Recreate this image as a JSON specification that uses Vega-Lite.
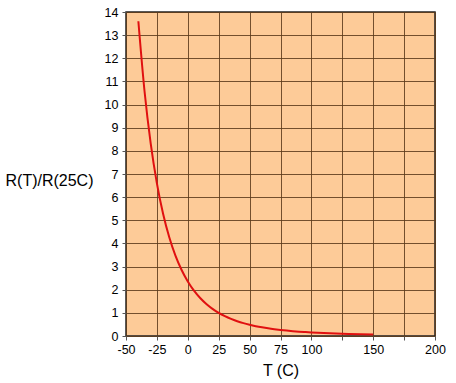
{
  "$schema": "https://vega.github.io/schema/vega-lite/v6.json",
  "width": 309,
  "height": 324,
  "autosize": {"type": "none"},
  "padding": {"left": 126, "top": 12, "right": 21, "bottom": 47},
  "background": "white",
  "config": {
    "view": {"fill": "#FDCB98", "stroke": "#222222", "strokeWidth": 1.5},
    "font": "Liberation Sans",
    "axis": {
      "grid": true,
      "gridColor": "#5a3a1a",
      "gridOpacity": 0.85,
      "gridWidth": 1,
      "domain": false,
      "tickColor": "#555555",
      "tickSize": 4,
      "labelFont": "Liberation Sans",
      "labelFontSize": 12.5,
      "labelColor": "#000000",
      "titleFont": "Liberation Sans",
      "titleFontSize": 16,
      "titleFontWeight": "normal",
      "titleColor": "#000000"
    }
  },
  "data": {
    "values": [
      {"T": -40, "R": 13.60},
      {"T": -35, "R": 10.575},
      {"T": -30, "R": 8.311},
      {"T": -25, "R": 6.594},
      {"T": -20, "R": 5.280},
      {"T": -15, "R": 4.265},
      {"T": -10, "R": 3.473},
      {"T": -5, "R": 2.850},
      {"T": 0, "R": 2.356},
      {"T": 5, "R": 1.960},
      {"T": 10, "R": 1.642},
      {"T": 15, "R": 1.384},
      {"T": 20, "R": 1.173},
      {"T": 25, "R": 1.000},
      {"T": 30, "R": 0.857},
      {"T": 35, "R": 0.738},
      {"T": 40, "R": 0.639},
      {"T": 45, "R": 0.555},
      {"T": 50, "R": 0.485},
      {"T": 55, "R": 0.425},
      {"T": 60, "R": 0.374},
      {"T": 65, "R": 0.330},
      {"T": 70, "R": 0.293},
      {"T": 75, "R": 0.261},
      {"T": 80, "R": 0.233},
      {"T": 85, "R": 0.208},
      {"T": 90, "R": 0.187},
      {"T": 95, "R": 0.169},
      {"T": 100, "R": 0.152},
      {"T": 110, "R": 0.125},
      {"T": 120, "R": 0.104},
      {"T": 130, "R": 0.0873},
      {"T": 140, "R": 0.0738},
      {"T": 150, "R": 0.0630}
    ]
  },
  "mark": {"type": "line", "color": "#E01010", "strokeWidth": 2, "interpolate": "monotone"},
  "encoding": {
    "x": {
      "field": "T",
      "type": "quantitative",
      "scale": {"domain": [-50, 200], "nice": false},
      "axis": {
        "title": "T (C)",
        "values": [-50, -25, 0, 25, 50, 75, 100, 125, 150, 175, 200],
        "labelExpr": "datum.value == 125 || datum.value == 175 ? '' : replace(datum.label, '\u2212', '-')",
        "labelPadding": 3,
        "titleY": 34,
        "titleBaseline": "middle",
        "labelFlush": false
      }
    },
    "y": {
      "field": "R",
      "type": "quantitative",
      "scale": {"domain": [0, 14], "nice": false},
      "axis": {
        "title": "R(T)/R(25C)",
        "titleAngle": 0,
        "titleAlign": "left",
        "titleBaseline": "middle",
        "titleX": -121,
        "titleY": 168,
        "values": [0, 1, 2, 3, 4, 5, 6, 7, 8, 9, 10, 11, 12, 13, 14],
        "labelPadding": 4,
        "labelFlush": false
      }
    }
  }
}
